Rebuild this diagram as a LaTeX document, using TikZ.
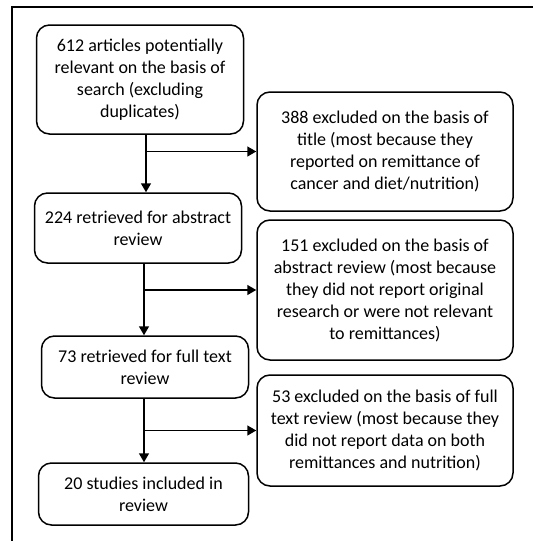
\documentclass[tikz,border=0pt]{standalone}
\usepackage{fontspec}
\setmainfont{Carlito}
\usetikzlibrary{positioning,arrows.meta}

\begin{document}
\begin{tikzpicture}[x=1pt,y=-1pt,>={Triangle[length=9pt,width=10pt]},
    box/.style={draw,line width=1.5pt,rounded corners=13pt,align=center,inner sep=0pt,
      font=\fontsize{18}{22}\selectfont},
    stage/.style={box,minimum width=207pt},
    excl/.style={box,minimum width=256pt},
    flow/.style={->,line width=1.5pt}]
  \useasboundingbox (0,0) rectangle (533,541);
  % outer frame
  \draw[line width=2pt] (12,541) -- (12,7) -- (533,7);

  \node[stage,minimum height=109pt] (found) at (140,79.5) {612 articles potentially\\relevant on the basis of\\search (excluding\\duplicates)};
  \node[excl,minimum height=119pt] (title) at (385,151.5) {388 excluded on the basis of\\title (most because they\\reported on remittance of\\cancer and diet/nutrition)};
  \node[stage,minimum height=70pt] (abstr) at (138,228) {224 retrieved for abstract\\review};
  \node[excl,minimum height=140pt] (exabs) at (385,290) {151 excluded on the basis of\\abstract review (most because\\they did not report original\\research or were not relevant\\to remittances)};
  \node[stage,minimum height=62pt] (full) at (145,367) {73 retrieved for full text\\review};
  \node[excl,minimum height=111pt] (exfull) at (385,430.5) {53 excluded on the basis of full\\text review (most because they\\did not report data on both\\remittances and nutrition)};
  \node[stage,minimum height=62pt,minimum width=210pt] (incl) at (143.5,494) {20 studies included in\\review};

  % trunk positions
  \coordinate (trunkA) at (146,0);
  \coordinate (trunkB) at (144,0);
  \draw[flow] (found.south -| trunkA) -- (abstr.north -| trunkA);
  \draw[flow] (title.west -| trunkA) -- (title.west);
  \draw[flow] (abstr.south -| trunkB) -- (full.north -| trunkB);
  \draw[flow] (exabs.west -| trunkB) -- (exabs.west);
  \draw[flow] (full.south -| trunkB) -- (incl.north -| trunkB);
  \draw[flow] (exfull.west -| trunkB) -- (exfull.west);
\end{tikzpicture}
\end{document}
